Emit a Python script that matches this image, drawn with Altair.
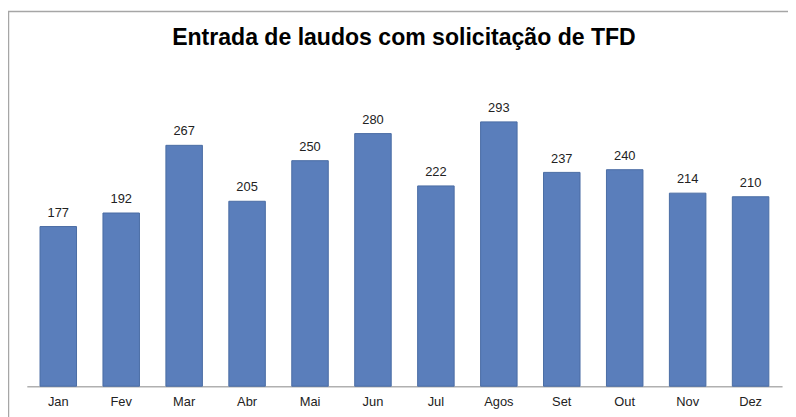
import altair as alt
import pandas as pd

months = ["Jan", "Fev", "Mar", "Abr", "Mai", "Jun", "Jul", "Agos", "Set", "Out", "Nov", "Dez"]
values = [177, 192, 267, 205, 250, 280, 222, 293, 237, 240, 214, 210]
title_text = "Entrada de laudos com solicitação de TFD"

df = pd.DataFrame({"mes": months, "valor": values})

FONT = "Liberation Sans"

x = alt.X("mes:N", sort=months,
          scale=alt.Scale(paddingInner=0.42, paddingOuter=0.21),
          axis=alt.Axis(title=None, labelAngle=0, ticks=False, domainColor="#b0b0b0",
                        domainWidth=1.5, labelFont=FONT, labelFontSize=13,
                        labelColor="#222222", labelPadding=9, grid=False))
y = alt.Y("valor:Q", scale=alt.Scale(domain=[0, 350]), axis=None)

one = pd.DataFrame({"a": [0]})

frame = alt.Chart(one).mark_rect(
    fill=None, stroke="#a6a6a6", strokeWidth=1.5, clip=False
).encode(x=alt.value(-18.5), x2=alt.value(900), y=alt.value(-59.5), y2=alt.value(500))

title = alt.Chart(one).mark_text(
    font=FONT, fontSize=23.3, fontWeight="bold", color="#000000",
    align="center", baseline="alphabetic"
).encode(x=alt.value(381), y=alt.value(-26), text=alt.value(title_text))

bars = alt.Chart(df).mark_bar(color="#5A7EBB", stroke="#4A6CA4", strokeWidth=1).encode(x=x, y=y)

labels = alt.Chart(df).mark_text(
    baseline="alphabetic", dy=-10, font=FONT, fontSize=13, color="#222222"
).encode(x=alt.X("mes:N", sort=months), y=y, text="valor:Q")

chart = alt.layer(frame, title, bars, labels).properties(
    width=763, height=319,
    autosize=alt.AutoSizeParams(type="none"),
    padding={"left": 19, "top": 61, "right": 6, "bottom": 29},
).configure_view(stroke=None)

chart.save("out.html", embed_options={"renderer": "svg", "actions": False})
